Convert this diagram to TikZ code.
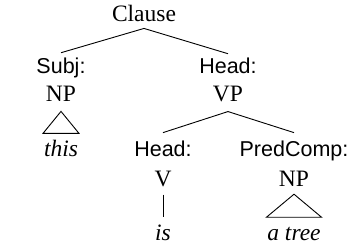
\documentclass[tikz,border=0pt]{standalone}
\usepackage{fontspec}
\setmainfont{Liberation Serif}
\setsansfont{Liberation Sans}
\begin{document}
\begin{tikzpicture}[x=1pt,y=-1pt,
  cat/.style={font=\fontsize{23.5}{26}\selectfont, inner sep=0pt, anchor=base},
  fn/.style={font=\sffamily\fontsize{21.5}{24}\selectfont, inner sep=0pt, anchor=base},
  word/.style={font=\itshape\fontsize{23.5}{26}\selectfont, inner sep=0pt, anchor=base},
  branch/.style={line width=0.9pt}]
\useasboundingbox (0,0) rectangle (361,246);
\node[cat] (clause) at (144,22) {Clause};
\node[fn] (subjf) at (61,73.5) {Subj:};
\node[cat] (np1) at (61,101.7) {NP};
\node[word] (this) at (61,156.5) {this};
\node[fn] (headf) at (228,73.5) {Head:};
\node[cat] (vp) at (228,101.7) {VP};
\node[fn] (vheadf) at (163,156.7) {Head:};
\node[cat] (v) at (163,186) {V};
\node[word] (is) at (163,240) {is};
\node[fn] (predf) at (294,156.7) {PredComp:};
\node[cat] (np2) at (294,186) {NP};
\node[word] (atree) at (294,240) {a tree};
\draw[branch] ([yshift=-6pt]clause.south) -- ([yshift=5pt]subjf.north);
\draw[branch] ([yshift=-6pt]clause.south) -- ([yshift=4pt]headf.north);
\draw[branch] ([yshift=-9.3pt]vp.south) -- ([yshift=8.3pt]vheadf.north);
\draw[branch] ([yshift=-9.3pt]vp.south) -- ([yshift=8.3pt]predf.north);
\draw[branch] ([yshift=-8pt]v.south) -- ([yshift=7pt]is.north);
\draw[branch] ([yshift=-9.5pt]np1.south) -- ++(-18,22) -- ++(36,0) -- cycle;
\draw[branch] ([yshift=-8pt]np2.south) -- ++(-27.5,23) -- ++(55,0) -- cycle;
\end{tikzpicture}
\end{document}
